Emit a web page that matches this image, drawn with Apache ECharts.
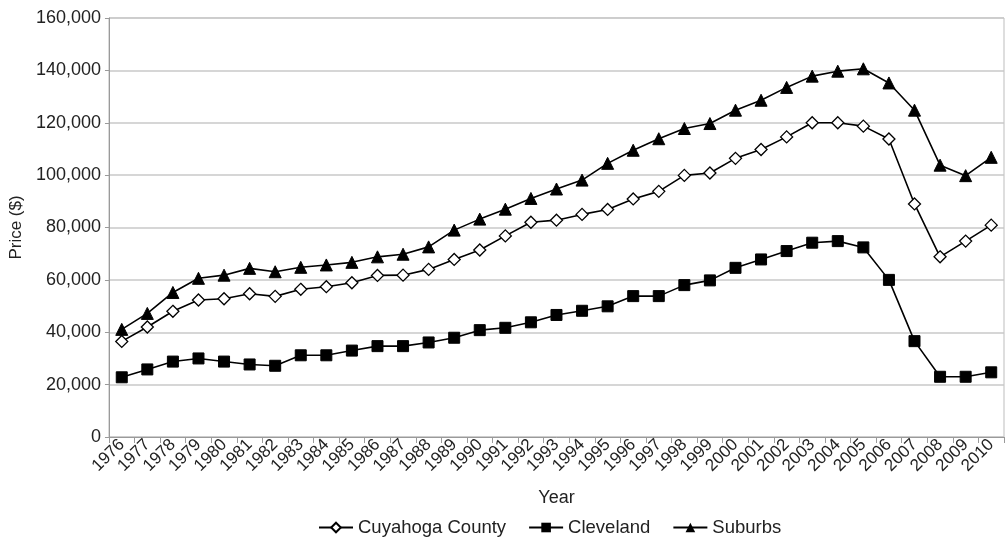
<!DOCTYPE html>
<html>
<head>
<meta charset="utf-8">
<script src="https://cdn.jsdelivr.net/npm/echarts@6/dist/echarts.min.js"></script>
<style>
html,body{margin:0;padding:0;background:#fff;}
#chart{width:1008px;height:543px;}
</style>
</head>
<body>
<div id="chart"></div>
<script>
const years = ['1976','1977','1978','1979','1980','1981','1982','1983','1984','1985','1986','1987','1988','1989','1990','1991','1992','1993','1994','1995','1996','1997','1998','1999','2000','2001','2002','2003','2004','2005','2006','2007','2008','2009','2010'];
const cuyahoga = [36500,42000,48000,52300,52800,54700,53700,56400,57400,58900,61700,61800,64000,67800,71400,76800,82000,82800,85000,86900,90900,93800,99900,100800,106400,109800,114600,120000,120000,118700,113800,89000,68800,74800,80900];
const cleveland = [22800,25800,28800,30000,28800,27700,27200,31200,31200,33000,34700,34700,36100,37900,40800,41700,43800,46600,48200,49900,53800,53800,58000,59800,64600,67800,71000,74200,74800,72400,60000,36600,23000,23000,24700];
const suburbs = [41100,47200,55200,60600,61800,64400,63100,64800,65700,66700,68800,69800,72600,79000,83200,87000,91100,94700,98100,104500,109500,113900,117800,119700,124800,128600,133500,137800,139700,140600,135200,124800,103800,99800,106800];

const font = 'Liberation Sans, Arial, Helvetica, sans-serif';
const txt = '#222';
const chart = echarts.init(document.getElementById('chart'));
chart.setOption({
  animation: false,
  textStyle: {fontFamily: font, color: txt},
  grid: {left: 104, right: 4, top: 18, bottom: 106, show: true, borderColor: '#bdbdbd', borderWidth: 1},
  legend: {
    top: 518, left: 318, itemGap: 22, itemWidth: 34, itemHeight: 12, padding: 0,
    textStyle: {fontSize: 18.5, color: txt, fontFamily: font},
    data: ['Cuyahoga County','Cleveland','Suburbs']
  },
  xAxis: {
    type: 'category', data: years, boundaryGap: true,
    name: 'Year', nameLocation: 'middle', nameGap: 52,
    nameTextStyle: {fontSize: 18, color: txt},
    axisLine: {lineStyle: {color: '#9a9a9a'}},
    axisTick: {show: true, interval: 0, length: 6, lineStyle: {color: '#9a9a9a'}},
    axisLabel: {interval: 0, rotate: 45, fontSize: 17, color: txt, margin: 5},
    splitLine: {show: false}
  },
  yAxis: {
    type: 'value', min: 0, max: 160000, interval: 20000,
    name: 'Price ($)', nameLocation: 'middle', nameGap: 80, nameRotate: 90,
    nameTextStyle: {fontSize: 17, color: txt},
    axisLine: {show: true, lineStyle: {color: '#9a9a9a'}},
    axisTick: {show: true, length: 4, lineStyle: {color: '#9a9a9a'}},
    axisLabel: {fontSize: 18, color: txt, margin: 8, formatter: v => v.toLocaleString('en-US')},
    splitLine: {lineStyle: {color: '#c8c8c8', width: 1.5}}
  },
  series: [
    {name: 'Cuyahoga County', type: 'line', data: cuyahoga, symbol: 'diamond', symbolSize: 12,
     lineStyle: {color: '#000', width: 1.6}, itemStyle: {color: '#fff', borderColor: '#000', borderWidth: 1.3}},
    {name: 'Cleveland', type: 'line', data: cleveland, symbol: 'rect', symbolSize: 11,
     lineStyle: {color: '#000', width: 1.6}, itemStyle: {color: '#000', borderColor: '#000'}},
    {name: 'Suburbs', type: 'line', data: suburbs, symbol: 'triangle', symbolSize: 12,
     lineStyle: {color: '#000', width: 1.6}, itemStyle: {color: '#000', borderColor: '#000'}}
  ]
});
</script>
</body>
</html>
